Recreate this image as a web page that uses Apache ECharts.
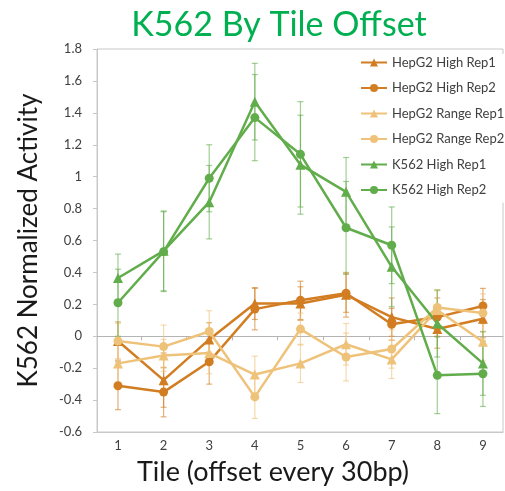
<!DOCTYPE html>
<html>
<head>
<meta charset="utf-8">
<script src="https://cdn.jsdelivr.net/npm/echarts@6/dist/echarts.min.js"></script>
<style>
  html, body { margin: 0; padding: 0; background: #fff; }
  #chart { width: 505px; height: 491px; }
</style>
</head>
<body>
<div id="chart"></div>
<script>
// Tile positions (offset every 30bp)
const tiles = [1, 2, 3, 4, 5, 6, 7, 8, 9];
const tileTicks = [1.5, 2.5, 3.5, 4.5, 5.5, 6.5, 7.5, 8.5];

// Normalized activity per tile, with error half-widths
const hepg2HighRep1 = [-0.03, -0.275, -0.02, 0.205, 0.205, 0.26, 0.12, 0.045, 0.11];
const hepg2HighRep1Err = [0.12, 0.17, 0.105, 0.10, 0.105, 0.14, 0.12, 0.12, 0.12];
const hepg2HighRep2 = [-0.31, -0.35, -0.16, 0.17, 0.225, 0.27, 0.075, 0.12, 0.19];
const hepg2HighRep2Err = [0.15, 0.155, 0.14, 0.13, 0.12, 0.12, 0.10, 0.12, 0.11];
const hepg2RangeRep1 = [-0.17, -0.12, -0.105, -0.24, -0.17, -0.05, -0.145, 0.165, -0.035];
const hepg2RangeRep1Err = [0.12, 0.10, 0.13, 0.115, 0.12, 0.13, 0.12, 0.12, 0.12];
const hepg2RangeRep2 = [-0.03, -0.065, 0.03, -0.38, 0.045, -0.13, -0.08, 0.18, 0.145];
const hepg2RangeRep2Err = [0.11, 0.135, 0.13, 0.135, 0.10, 0.15, 0.12, 0.11, 0.12];
const k562HighRep1 = [0.365, 0.535, 0.84, 1.47, 1.075, 0.905, 0.435, 0.08, -0.17];
const k562HighRep1Err = [0.15, 0.25, 0.23, 0.24, 0.31, 0.215, 0.25, 0.21, 0.20];
const k562HighRep2 = [0.21, 0.53, 0.99, 1.37, 1.14, 0.68, 0.57, -0.245, -0.235];
const k562HighRep2Err = [0.21, 0.25, 0.21, 0.27, 0.33, 0.29, 0.24, 0.24, 0.205];

const DARK_ORANGE = '#d27d22';
const LIGHT_TAN = '#efc27a';
const GREEN = '#62ad4b';
const FONT = 'Lato';

const seriesDefs = [
  { name: 'HepG2 High Rep1', values: hepg2HighRep1, errs: hepg2HighRep1Err, color: DARK_ORANGE, symbol: 'triangle' },
  { name: 'HepG2 High Rep2', values: hepg2HighRep2, errs: hepg2HighRep2Err, color: DARK_ORANGE, symbol: 'circle' },
  { name: 'HepG2 Range Rep1', values: hepg2RangeRep1, errs: hepg2RangeRep1Err, color: LIGHT_TAN, symbol: 'triangle' },
  { name: 'HepG2 Range Rep2', values: hepg2RangeRep2, errs: hepg2RangeRep2Err, color: LIGHT_TAN, symbol: 'circle' },
  { name: 'K562 High Rep1', values: k562HighRep1, errs: k562HighRep1Err, color: GREEN, symbol: 'triangle' },
  { name: 'K562 High Rep2', values: k562HighRep2, errs: k562HighRep2Err, color: GREEN, symbol: 'circle' }
];

// Vertical error bar with end caps, drawn in data space
function errorBars(def) {
  return {
    type: 'custom',
    name: def.name + ' error',
    silent: true,
    z: 1,
    data: tiles.map((t, i) => [t, def.values[i] - def.errs[i], def.values[i] + def.errs[i]]),
    renderItem: function (params, api) {
      const lo = api.coord([api.value(0), api.value(1)]);
      const hi = api.coord([api.value(0), api.value(2)]);
      const cap = 3;
      const style = { stroke: def.color, lineWidth: 1.2, opacity: 0.6 };
      return {
        type: 'group',
        children: [
          { type: 'line', shape: { x1: lo[0], y1: lo[1], x2: hi[0], y2: hi[1] }, style: style },
          { type: 'line', shape: { x1: lo[0] - cap, y1: lo[1], x2: lo[0] + cap, y2: lo[1] }, style: style },
          { type: 'line', shape: { x1: hi[0] - cap, y1: hi[1], x2: hi[0] + cap, y2: hi[1] }, style: style }
        ]
      };
    }
  };
}

function lineSeries(def) {
  return {
    type: 'line',
    name: def.name,
    z: 3,
    data: tiles.map((t, i) => [t, def.values[i]]),
    symbol: def.symbol,
    symbolSize: def.symbol === 'circle' ? 9 : 10,
    showAllSymbol: true,
    lineStyle: { color: def.color, width: 2.5 },
    itemStyle: { color: def.color },
    emphasis: { disabled: true }
  };
}

const chart = echarts.init(document.getElementById('chart'));
chart.setOption({
  animation: false,
  backgroundColor: '#fff',
  title: {
    text: 'K562 By Tile Offset',
    left: 274,
    textAlign: 'center',
    top: 3,
    textStyle: { fontFamily: FONT, fontSize: 34, fontWeight: 'normal', color: '#00b050' }
  },
  grid: {
    left: 97, right: 2, top: 49, bottom: 56,
    show: true, borderColor: '#c8c8c8', borderWidth: 1, backgroundColor: 'transparent'
  },
  legend: {
    orient: 'vertical',
    left: 356,
    top: 54,
    itemWidth: 26,
    itemHeight: 10,
    itemGap: 12.5,
    padding: [2, 8, 6, 4],
    backgroundColor: '#fff',
    textStyle: { fontFamily: FONT, fontSize: 13, color: '#404040' },
    data: seriesDefs.map(d => d.name)
  },
  xAxis: [
    {
      type: 'value',
      min: 0.54,
      max: 9.44,
      position: 'bottom',
      axisLine: { show: true, onZero: false, lineStyle: { color: '#c8c8c8' } },
      axisTick: { show: false },
      splitLine: { show: false },
      axisLabel: {
        customValues: tiles,
        margin: 7,
        fontFamily: FONT, fontSize: 13, color: '#404040'
      },
      name: 'Tile (offset every 30bp)',
      nameLocation: 'middle',
      nameGap: 27,
      nameTextStyle: { fontFamily: FONT, fontSize: 27, color: '#1a1a1a', padding: [0, 54, 0, 0] }
    },
    {
      // horizontal axis crossing at zero, with category dividers
      type: 'value',
      min: 0.54,
      max: 9.44,
      position: 'top',
      axisLine: { show: true, onZero: true, lineStyle: { color: '#b4b4b4' } },
      axisTick: { show: true, inside: true, length: 4, customValues: tileTicks, lineStyle: { color: '#b4b4b4' } },
      axisLabel: { show: false },
      splitLine: { show: false }
    }
  ],
  yAxis: {
    type: 'value',
    min: -0.6,
    max: 1.8,
    interval: 0.2,
    axisLine: { show: true, lineStyle: { color: '#c8c8c8' } },
    axisTick: { show: true, length: 4, lineStyle: { color: '#c8c8c8' } },
    splitLine: { show: false },
    axisLabel: {
      margin: 15,
      fontFamily: FONT, fontSize: 13, color: '#404040',
      formatter: v => String(Math.round(v * 10) / 10)
    },
    name: 'K562 Normalized Activity',
    nameLocation: 'middle',
    nameGap: 55,
    nameTextStyle: { fontFamily: FONT, fontSize: 26, color: '#1a1a1a' }
  },
  series: seriesDefs.map(errorBars).concat(seriesDefs.map(lineSeries))
});
</script>
</body>
</html>
